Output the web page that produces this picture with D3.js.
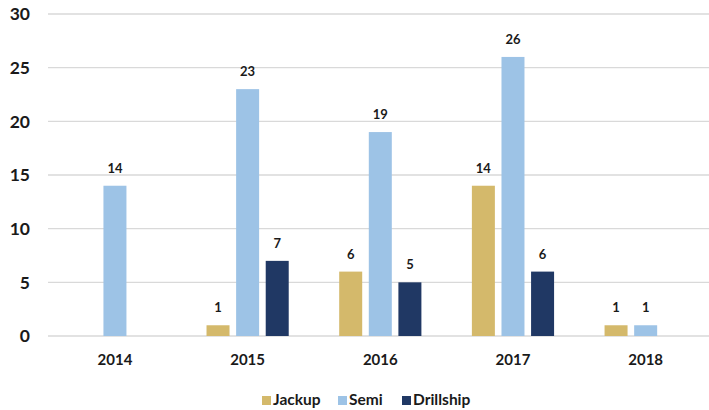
<!DOCTYPE html>
<html><head><meta charset="utf-8">
<script src="https://cdn.jsdelivr.net/npm/d3@7"></script>
<style>
html,body{margin:0;padding:0;background:#fff;}
svg{display:block;font-family:Lato,"Open Sans","Liberation Sans",sans-serif;font-weight:bold;}
</style></head>
<body>
<svg id="c" width="709" height="410"></svg>
<script>
const categories = ["2014","2015","2016","2017","2018"];
const seriesNames = ["Jackup","Semi","Drillship"];
const jackup = [null, 1, 6, 14, 1];
const semi = [14, 23, 19, 26, 1];
const drillship = [null, 7, 5, 6, null];
const yTicks = [0,5,10,15,20,25,30];
const colors = ["#D4B96B","#9DC3E6","#203864"];

const seriesValues = [jackup, semi, drillship];
const svg = d3.select("#c");
const x = d3.scaleBand().domain(categories).range([48.6, 712]).paddingInner(0).paddingOuter(0);
const y = d3.scaleLinear().domain([0,30]).range([336, 14]);
const step = 29.6, bw = 23;

// gridlines
svg.append("g").selectAll("line").data(yTicks).join("line")
  .attr("x1",48).attr("x2",709)
  .attr("y1",d=>y(d)).attr("y2",d=>y(d))
  .attr("stroke","#D9D9D9").attr("stroke-width",1.3);

// y tick labels
svg.append("g").selectAll("text").data(yTicks).join("text")
  .attr("x",30).attr("y",d=>y(d)).attr("dy","0.36em")
  .attr("text-anchor","end").attr("font-size",17.5).attr("fill","#1a1a1a")
  .text(d=>d);

// bars
const bars = [];
seriesValues.forEach((vals,si)=>{
  vals.forEach((v,ci)=>{
    if(v==null) return;
    const cx = x(categories[ci]) + x.bandwidth()/2 + (si-1)*step;
    bars.push({si, ci, v, cx});
  });
});
svg.append("g").selectAll("rect").data(bars).join("rect")
  .attr("x",d=>d.cx-bw/2).attr("width",bw)
  .attr("y",d=>y(d.v)).attr("height",d=>y(0)-y(d.v))
  .attr("fill",d=>colors[d.si]);
svg.append("g").selectAll("text").data(bars).join("text")
  .attr("x",d=>d.cx).attr("y",d=>y(d.v)-13)
  .attr("text-anchor","middle").attr("font-size",13).attr("fill","#1a1a1a")
  .text(d=>d.v);

// x labels
svg.append("g").selectAll("text").data(categories).join("text")
  .attr("x",d=>x(d)+x.bandwidth()/2).attr("y",365)
  .attr("text-anchor","middle").attr("font-size",15).attr("fill","#1a1a1a")
  .text(d=>d);

// legend
const legX = [262, 338, 402];
const leg = svg.append("g").selectAll("g").data(seriesNames).join("g")
  .attr("transform",(d,i)=>`translate(${legX[i]},405)`);
leg.append("rect").attr("x",0).attr("y",-9).attr("width",9).attr("height",9)
  .attr("fill",(d,i)=>colors[i]);
leg.append("text").attr("x",11).attr("y",0)
  .attr("font-size",15.5).attr("fill","#1a1a1a").text(d=>d);
</script>
</body></html>
